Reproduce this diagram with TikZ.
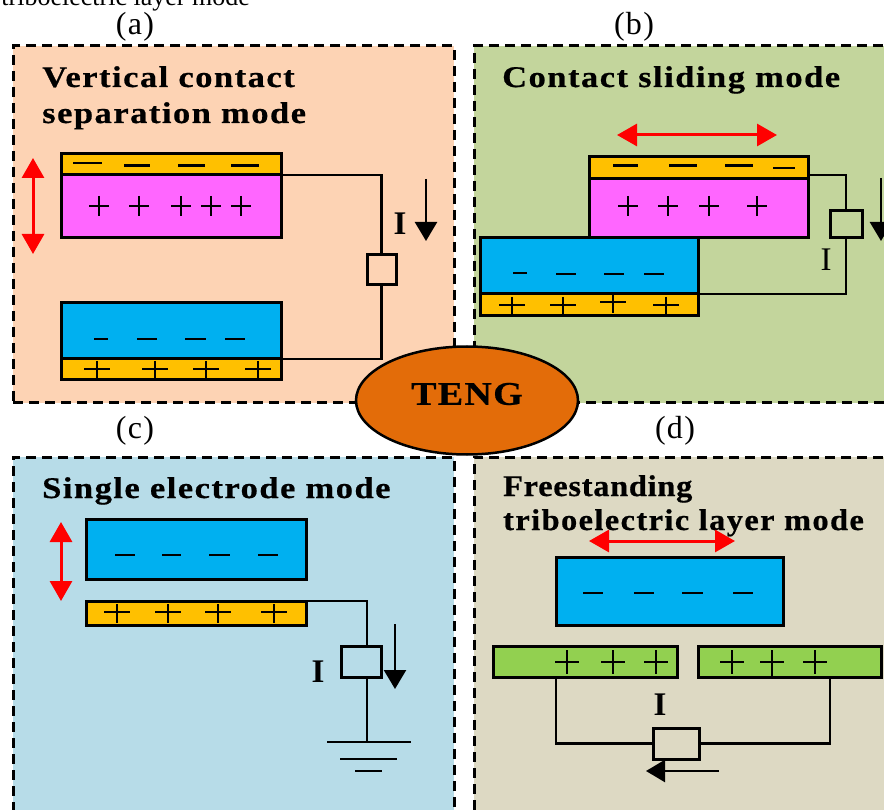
\documentclass[tikz,border=0pt]{standalone}
\usepackage{fontspec}
\setmainfont{Liberation Serif}
\newfontfamily\titlefont[LetterSpace=5,FakeStretch=1.15,BoldFeatures={FakeBold=0.6}]{Liberation Serif}
\newfontfamily\titlefontf[LetterSpace=2.4,FakeStretch=1.08,BoldFeatures={FakeBold=0.6}]{Liberation Serif}
\newfontfamily\titlefontt[LetterSpace=4.7,FakeStretch=1.08,BoldFeatures={FakeBold=0.6}]{Liberation Serif}
\newfontfamily\tengfont[LetterSpace=4,FakeStretch=1.15,BoldFeatures={FakeBold=0.6}]{Liberation Serif}
\newfontfamily\tagfont[LetterSpace=4]{Liberation Serif}
\usetikzlibrary{arrows.meta,shapes.geometric}
\definecolor{pa}{HTML}{FDD3B4}
\definecolor{pb}{HTML}{C3D59C}
\definecolor{pc}{HTML}{B7DCE8}
\definecolor{pd}{HTML}{DDD9C3}
\definecolor{gold}{HTML}{FFC000}
\definecolor{pinkp}{HTML}{FF66FF}
\definecolor{bluep}{HTML}{00B0F0}
\definecolor{greenp}{HTML}{92D050}
\definecolor{orangep}{HTML}{E36C09}
\tikzset{
  x=1pt,y=-1pt,
  panelbox/.style={draw=black,line width=3pt,dash pattern=on 10pt off 6pt,inner sep=0pt,outer sep=0pt},
  plate/.style={draw=black,line width=3pt,inner sep=0pt,outer sep=0pt},
  wire/.style={draw=black,line width=2.6pt},
  redarrow/.style={draw=red,line width=3pt,{Triangle[length=20pt,width=22pt]}-{Triangle[length=20pt,width=22pt]}},
  curarrow/.style={draw=black,line width=2.4pt,-{Triangle[length=19pt,width=22pt]}},
  title/.style={font=\titlefont\bfseries\fontsize{30}{32}\selectfont,anchor=base west,inner sep=0pt},
  titleF/.style={font=\titlefontf\bfseries\fontsize{30}{32}\selectfont,anchor=base west,inner sep=0pt},
  titleT/.style={font=\titlefontt\bfseries\fontsize{30}{32}\selectfont,anchor=base west,inner sep=0pt},
  tag/.style={font=\tagfont\fontsize{32}{34}\selectfont,anchor=center,inner sep=0pt},
  curlabel/.style={font=\bfseries\fontsize{33}{34}\selectfont,anchor=center,inner sep=0pt},
  thinq/.style={draw=black,line width=1.4pt},
  thickq/.style={draw=black,line width=2.8pt},
}
% name, x1, y1, x2, y2, style options
\newcommand{\rectnode}[6]{%
  \pgfmathsetlengthmacro{\rw}{(#4)-(#2)}%
  \pgfmathsetlengthmacro{\rh}{(#5)-(#3)}%
  \pgfmathsetmacro{\rcx}{((#2)+(#4))/2}%
  \pgfmathsetmacro{\rcy}{((#3)+(#5))/2}%
  \node[#6,minimum width=\rw,minimum height=\rh] (#1) at (\rcx,\rcy) {};}
% plus: cx, cy, half size, style
\newcommand{\qplus}[4][thinq]{\draw[#1] (#2-#4,#3) -- (#2+#4,#3) (#2,#3-#4) -- (#2,#3+#4);}
% gold-layer plus: cx, cy
\newcommand{\qplusb}[2]{\draw[thickq] (#1-13,#2-1) -- (#1+13,#2-1) (#1,#2-9) -- (#1,#2+10);}
% minus: x1, x2, y, style
\newcommand{\qminus}[4][thinq]{\draw[#1] (#2,#4) -- (#3,#4);}
\begin{document}
\begin{tikzpicture}
\useasboundingbox (0,0) rectangle (884,810);
\clip (0,0) rectangle (884,810);
% panels
\rectnode{panelA}{13}{46}{454}{403}{panelbox,fill=pa}
\rectnode{panelB}{474}{46}{900}{403}{panelbox,fill=pb}
\rectnode{panelC}{13}{457}{454}{830}{panelbox,fill=pc}
\rectnode{panelD}{474}{457}{900}{830}{panelbox,fill=pd}
% stray caption above
\node[font=\fontsize{26}{28}\selectfont,anchor=base east,inner sep=0pt] (stray) at (250,6) {triboelectric layer mode};
% tags
\node[tag] (tagA) at (135,27) {(a)};
\node[tag] (tagB) at (634,27) {(b)};
\node[tag] (tagC) at (135,431) {(c)};
\node[tag] (tagD) at (675,431) {(d)};
% titles
\node[title] (tA1) at (42,87) {Vertical contact};
\node[title] (tA2) at (42,123) {separation mode};
\node[title] (tB1) at (502,87) {Contact sliding mode};
\node[title] (tC1) at (42,498) {Single electrode mode};
\node[titleF] (tD1) at (503,496) {Freestanding};
\node[titleT] (tD2) at (503,530) {triboelectric layer mode};
% --- panel a
\rectnode{pinkA}{61}{175}{281}{238}{plate,fill=pinkp}
\rectnode{goldA}{61}{154}{281}{175}{plate,fill=gold}
\rectnode{blueA}{61}{303}{281}{359}{plate,fill=bluep}
\rectnode{goldAb}{61}{359}{281}{380}{plate,fill=gold}
\rectnode{boxA}{367}{255}{396}{285}{plate,fill=pa}
\draw[wire] (goldA.south east) -| (boxA.north);
\draw[wire] (boxA.south) |- (blueA.south east);
\node[curlabel] (iA) at (400,224) {I};
\coordinate (cA1) at (426,179); \coordinate (cA2) at (426,241);
\draw[curarrow] (cA1) -- (cA2);
\coordinate (rA1) at (33,158); \coordinate (rA2) at (33,254);
\draw[redarrow] (rA1) -- (rA2);
\qminus[thickq]{73}{102}{163}\qminus[thickq]{124}{150}{165.5}\qminus[thickq]{178}{205}{165.5}\qminus[thickq]{231}{259}{165.5}
\qplus{99}{206}{10}\qplus{139}{206}{10}\qplus{181}{206}{10}\qplus{211}{206}{10}\qplus{241}{206}{10}
\qminus[thickq]{94}{108}{339}\qminus{137}{157}{339}\qminus{185}{206}{339}\qminus{225}{245}{339}
\qplusb{97}{370}\qplusb{155}{370}\qplusb{206}{370}\qplusb{258}{370}
% --- panel b
\rectnode{pinkB}{589}{179}{808}{238}{plate,fill=pinkp}
\rectnode{goldB}{589}{157}{808}{179}{plate,fill=gold}
\rectnode{blueB}{480}{238}{698}{294}{plate,fill=bluep}
\rectnode{goldBb}{480}{294}{698}{316}{plate,fill=gold}
\rectnode{boxB}{830}{211}{862}{238}{plate,fill=pb}
\coordinate (wB1) at (808,175);
\draw[wire] (wB1) -| (boxB.north);
\draw[wire] (boxB.south) |- (blueB.south east);
\node[font=\fontsize{33}{34}\selectfont,inner sep=0pt] (iB) at (826,260) {I};
\coordinate (cB1) at (881,178); \coordinate (cB2) at (881,241);
\draw[curarrow] (cB1) -- (cB2);
\coordinate (rB1) at (617,135); \coordinate (rB2) at (777,135);
\draw[redarrow] (rB1) -- (rB2);
\qminus[thickq]{613}{638}{165.5}\qminus[thickq]{669}{697}{165.5}\qminus[thickq]{725}{753}{165.5}\qminus[thickq]{773}{795}{168}
\qplus{628}{206}{10}\qplus{668}{206}{10}\qplus{709}{206}{10}\qplus{757}{206}{10}
\qminus[thickq]{513}{527}{273}\qminus{556}{576}{274}\qminus{604}{624}{274}\qminus{644}{664}{274}
\qplusb{512}{306}\qplusb{563}{306}\qplusb{613}{303}\qplusb{666}{306}
% --- panel c
\rectnode{blueC}{86}{519}{306}{579}{plate,fill=bluep}
\rectnode{goldC}{86}{601}{306}{625}{plate,fill=gold}
\rectnode{boxC}{341}{646}{381}{677}{plate,fill=pc}
\coordinate (wC1) at (367,601); \coordinate (wC2) at (367,646);
\coordinate (wC3) at (367,677); \coordinate (gndC) at (367,742);
\draw[wire] (goldC.north east) -- (wC1) -- (wC2);
\draw[wire] (wC3) -- (gndC);
\coordinate (g1a) at (327,742); \coordinate (g1b) at (411,742);
\coordinate (g2a) at (340,759); \coordinate (g2b) at (397,759);
\coordinate (g3a) at (355,771); \coordinate (g3b) at (382,771);
\draw[wire] (g1a) -- (g1b); \draw[wire] (g2a) -- (g2b); \draw[wire] (g3a) -- (g3b);
\node[curlabel] (iC) at (318,672) {I};
\coordinate (cC1) at (395,624); \coordinate (cC2) at (395,689);
\draw[curarrow] (cC1) -- (cC2);
\coordinate (rC1) at (61,522); \coordinate (rC2) at (61,601);
\draw[redarrow] (rC1) -- (rC2);
\qminus{115}{135}{555}\qminus{162}{181}{555}\qminus{209}{230}{555}\qminus{258}{278}{555}
\qplusb{117}{613}\qplusb{168}{613}\qplusb{218}{613}\qplusb{274}{613}
% --- panel d
\rectnode{blueD}{556}{557}{783}{625}{plate,fill=bluep}
\rectnode{greenL}{493}{646}{677}{677}{plate,fill=greenp}
\rectnode{greenR}{698}{646}{881}{677}{plate,fill=greenp}
\rectnode{boxD}{653}{728}{699}{759}{plate,fill=pd}
\coordinate (wD1) at (556,677); \coordinate (wD2) at (830,677);
\draw[wire] (wD1) |- (boxD.west);
\draw[wire] (wD2) |- (boxD.east);
\node[curlabel] (iD) at (660,705) {I};
\coordinate (cD1) at (719,771); \coordinate (cD2) at (646,771);
\draw[curarrow] (cD1) -- (cD2);
\coordinate (rD1) at (589,541); \coordinate (rD2) at (735,541);
\draw[redarrow] (rD1) -- (rD2);
\qminus{583}{603}{593}\qminus{634}{654}{593}\qminus{682}{703}{593}\qminus{733}{753}{593}
\qplus[thickq]{567}{662}{12}\qplus[thickq]{613}{662}{12}\qplus[thickq]{656}{662}{12}
\qplus[thickq]{732}{662}{12}\qplus[thickq]{772}{662}{12}\qplus[thickq]{815}{662}{12}
\draw[thinq] (772,662) -- (772,677);
% centre
\node[draw=black,line width=2.5pt,fill=orangep,ellipse,minimum width=222pt,minimum height=108pt,inner sep=0pt,outer sep=0pt] (teng) at (467,400.5) {};
\node[font=\tengfont\bfseries\fontsize{33}{34}\selectfont,inner sep=0pt] (tengl) at (467,394) {TENG};
\end{tikzpicture}
\end{document}
